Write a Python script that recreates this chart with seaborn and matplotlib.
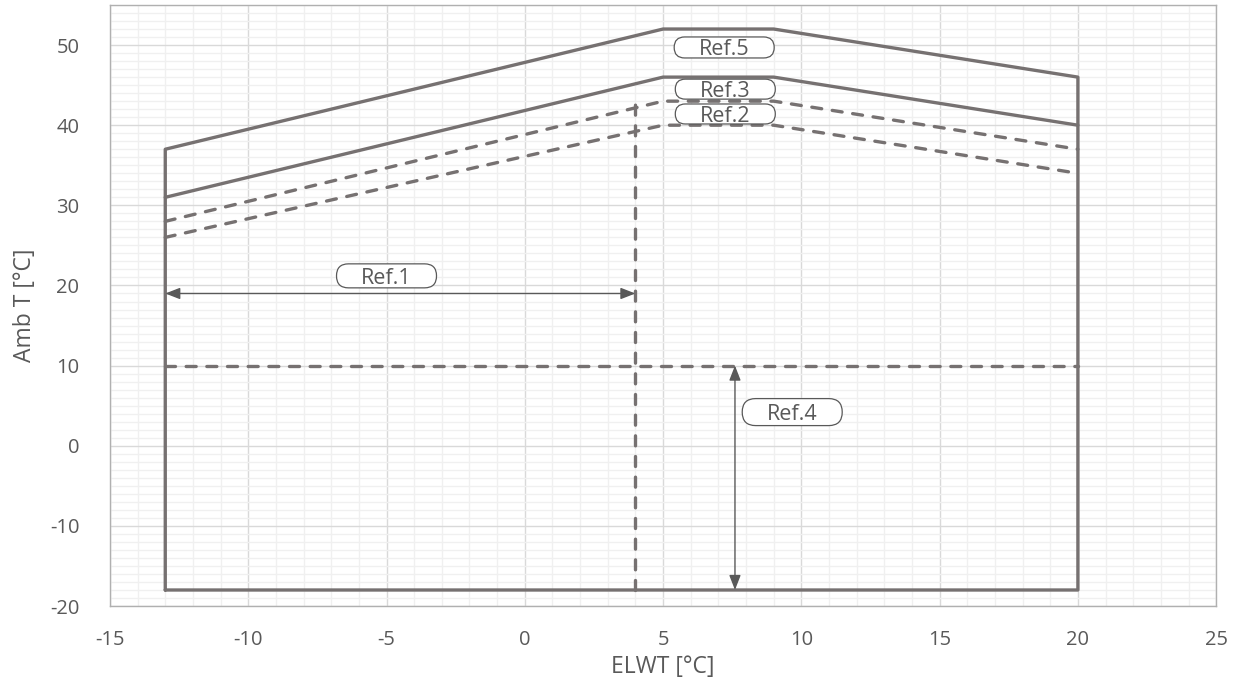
import matplotlib
matplotlib.use("Agg")
import matplotlib.pyplot as plt
import seaborn as sns
import pandas as pd
from matplotlib.ticker import MultipleLocator
from matplotlib.patches import FancyBboxPatch

# ---- data ----
env_x = [-13, -13, 5, 9, 20, 20, -13]
env_y = [-18, 37, 52, 52, 46, -18, -18]
ref3_x = [-13, 5, 9, 20]
ref3_y = [31, 46, 46, 40]
dash_up_x = [-13, 5, 9, 20]
dash_up_y = [28, 43, 43, 37]
dash_lo_x = [-13, 5, 9, 20]
dash_lo_y = [26, 40, 40, 34]
vdash_x = [4, 4]
vdash_y = [-18, 43]
hdash_x = [-13, 20]
hdash_y = [10, 10]
ref1_arrow = ([-13, 4], [19, 19])
ref4_arrow = ([7.6, 7.6], [10, -18])
labels = ["Ref.5", "Ref.3", "Ref.2", "Ref.1", "Ref.4"]
label_x = [7.21, 7.25, 7.25, -5.0, 9.67]
label_y = [49.7, 44.5, 41.4, 21.2, 4.2]

sns.set_style("white")
plt.rcParams['font.family'] = ['Open Sans', 'DejaVu Sans']
plt.rcParams['axes.unicode_minus'] = False

fig = plt.figure(figsize=(12.41, 6.93), dpi=100)
ax = fig.add_axes([0.0886, 0.1255, 0.98 - 0.0886, 0.9928 - 0.1255])

line_c = "#767171"
lw = 2.4

def draw(xs, ys, dashed=False):
    df = pd.DataFrame({"x": xs, "y": ys, "o": range(len(xs))})
    sns.lineplot(data=df, x="x", y="y", sort=False, estimator=None, ax=ax,
                 color=line_c, lw=lw,
                 linestyle=(0, (3.0, 3.2)) if dashed else "-",
                 dash_capstyle="round")

draw(env_x, env_y)
draw(ref3_x, ref3_y)
draw(dash_up_x, dash_up_y, True)
draw(dash_lo_x, dash_lo_y, True)
draw(vdash_x, vdash_y, True)
draw(hdash_x, hdash_y, True)

arrow_c = "#595959"
for (xs, ys) in [ref1_arrow, ref4_arrow]:
    ax.annotate("", xy=(xs[1], ys[1]), xytext=(xs[0], ys[0]),
                arrowprops=dict(arrowstyle="<|-|>,head_length=0.9,head_width=0.35",
                                color=arrow_c, lw=1.0, shrinkA=0, shrinkB=0))

ax.set_xlim(-15, 25)
ax.set_ylim(-20, 55)

# label boxes (pixel-sized pills)
px_x = 1106 / 40.0   # pixels per x unit
px_y = 601 / 75.0    # pixels per y unit
box_w_px = 100
box_h_px = [21, 20, 20, 24, 27]
fs = 15.5
cap_half = fs * 100 / 72 * 0.714 / 2 / px_y
for t, x, y, hp in zip(labels, label_x, label_y, box_h_px):
    w = box_w_px / px_x
    h = hp / px_y
    r = (hp / 2.0) / px_x
    p = FancyBboxPatch((x - w / 2 + r, y - h / 2 + r * px_x / px_y),
                       w - 2 * r, h - 2 * r * px_x / px_y,
                       boxstyle=f"round,pad={r},rounding_size={r}",
                       mutation_aspect=px_x / px_y,
                       fc="white", ec="#595959", lw=0.9, zorder=5)
    ax.add_patch(p)
    ax.text(x, y - cap_half, t, ha="center", va="baseline", fontsize=fs,
            color="#595959", zorder=6)

ax.xaxis.set_major_locator(MultipleLocator(5))
ax.xaxis.set_minor_locator(MultipleLocator(1))
ax.yaxis.set_minor_locator(MultipleLocator(1))
ax.set_yticks(range(-20, 51, 10))
ax.grid(which="major", color="#d9d9d9", lw=1.0)
ax.grid(which="minor", color="#f0f0f0", lw=1.0)
ax.set_axisbelow(True)
for s in ax.spines.values():
    s.set_color("#b0b0b0")
    s.set_linewidth(1.0)
ax.tick_params(which="both", length=0, labelsize=14.5, colors="#595959")
ax.tick_params(axis="x", pad=17)
ax.tick_params(axis="y", pad=22)
ax.set_xlabel("ELWT [°C]", fontsize=16.5, color="#595959", labelpad=4)
ax.set_ylabel("Amb T [°C]", fontsize=16.5, color="#595959", labelpad=9)

fig.savefig("out.png", dpi=100)
